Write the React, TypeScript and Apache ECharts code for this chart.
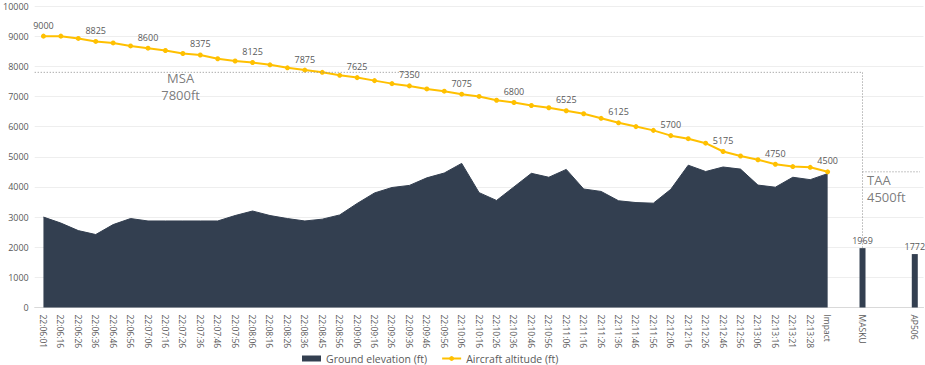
import React, { useEffect, useRef } from 'react';
import * as echarts from 'echarts';

const categories = [
  '22:06:01', '22:06:16', '22:06:26', '22:06:36', '22:06:46', '22:06:56',
  '22:07:06', '22:07:16', '22:07:26', '22:07:36', '22:07:46', '22:07:56',
  '22:08:06', '22:08:16', '22:08:26', '22:08:36', '22:08:45', '22:08:56',
  '22:09:06', '22:09:16', '22:09:26', '22:09:36', '22:09:46', '22:09:56',
  '22:10:06', '22:10:16', '22:10:26', '22:10:36', '22:10:46', '22:10:56',
  '22:11:06', '22:11:16', '22:11:26', '22:11:36', '22:11:46', '22:11:56',
  '22:12:06', '22:12:16', '22:12:26', '22:12:46', '22:12:56',
  '22:13:06', '22:13:16', '22:13:21', '22:13:28', 'Impact',
  '', 'MASKU', '', '', 'AP506',
];

const groundElevation = [
  3000, 2800, 2550, 2420, 2750, 2950, 2870, 2870, 2870, 2870, 2870, 3050,
  3200, 3050, 2950, 2870, 2930, 3070, 3450, 3800, 3980, 4050, 4300, 4460,
  4780, 3810, 3550, 4000, 4450, 4320, 4580, 3930, 3850, 3540, 3480, 3460,
  3920, 4720, 4510, 4660, 4590, 4060, 3990, 4320, 4240, 4440,
];

const aircraftAltitude = [
  9000, 9000, 8925, 8825, 8775, 8675, 8600, 8525, 8425, 8375, 8250, 8175,
  8125, 8050, 7950, 7875, 7800, 7700, 7625, 7525, 7425, 7350, 7250, 7175,
  7075, 7000, 6875, 6800, 6700, 6625, 6525, 6425, 6275, 6125, 6000, 5875,
  5700, 5600, 5450, 5175, 5025, 4900, 4750, 4675, 4650, 4500,
];

const waypointNames = ['MASKU', 'AP506'];
const waypointElevation = [1969, 1772];

const yTicks = { min: 0, max: 10000, interval: 1000 };

const MSA = 7800;
const TAA = 4500;
const MSA_LABEL_AT = 7.9;
const TAA_END = 50.3;

const DARK = '#333f50';
const GOLD = '#ffc000';
const TEXT = '#595959';
const FONT = '"Open Sans", "Noto Sans", sans-serif';

export default function App() {
  const ref = useRef<HTMLDivElement>(null);

  useEffect(() => {
    if (!ref.current) return;
    const chart = echarts.init(ref.current, null, { renderer: 'svg' });

    const n = categories.length;
    const mIdx = categories.indexOf(waypointNames[0]);
    const barData = categories.map((c) => {
      const k = waypointNames.indexOf(c);
      return k >= 0 ? waypointElevation[k] : null;
    });

    const annot = (x: number, y: number, text: string, label: any) => ({
      value: [x, y],
      label: {
        show: true,
        formatter: text,
        fontSize: 13,
        lineHeight: 13,
        color: TEXT,
        fontFamily: FONT,
        ...label,
      },
    });

    chart.setOption({
      animation: false,
      textStyle: { fontFamily: FONT },
      grid: { left: 32.25, right: 1.5, top: 6, bottom: 57.5, containLabel: false },
      legend: {
        left: 302,
        top: 353,
        padding: 0,
        itemGap: 14,
        itemWidth: 19,
        itemHeight: 6,
        textStyle: { color: TEXT, fontSize: 10.5, fontFamily: FONT },
        data: [
          { name: 'Ground elevation (ft)', icon: 'rect' },
          { name: 'Aircraft altitude (ft)' },
        ],
      },
      xAxis: [
        {
          type: 'category',
          data: categories,
          boundaryGap: true,
          axisLine: { show: true, lineStyle: { color: '#d9d9d9', width: 1 } },
          axisTick: { show: false },
          axisLabel: {
            interval: 0,
            rotate: -90,
            fontSize: 8.5,
            color: TEXT,
            margin: 7,
            fontFamily: FONT,
          },
          splitLine: { show: false },
        },
        {
          type: 'value',
          min: -0.5,
          max: n - 0.5,
          show: false,
          splitLine: { show: false },
        },
      ],
      yAxis: {
        type: 'value',
        min: yTicks.min,
        max: yTicks.max,
        interval: yTicks.interval,
        axisLine: { show: false },
        axisTick: { show: false },
        axisLabel: {
          fontSize: 9,
          color: TEXT,
          margin: 6,
          fontFamily: FONT,
          formatter: (v: number) => String(v),
        },
        splitLine: { lineStyle: { color: '#eeeeee', width: 1 } },
      },
      series: [
        {
          name: 'Ground elevation (ft)',
          type: 'line',
          data: groundElevation,
          symbol: 'none',
          lineStyle: { color: DARK, width: 1 },
          itemStyle: { color: DARK },
          areaStyle: { color: DARK, opacity: 1 },
          z: 1,
          silent: true,
        },
        {
          name: 'Ground elevation (ft)',
          type: 'bar',
          data: barData,
          barWidth: 6,
          itemStyle: { color: DARK },
          label: {
            show: true,
            position: 'top',
            distance: 3,
            color: TEXT,
            fontSize: 9,
            fontFamily: FONT,
          },
          z: 1,
          silent: true,
        },
        {
          name: 'Aircraft altitude (ft)',
          type: 'line',
          data: aircraftAltitude,
          symbol: 'circle',
          symbolSize: 5,
          lineStyle: { color: GOLD, width: 2 },
          itemStyle: { color: GOLD },
          label: {
            show: true,
            position: 'top',
            distance: 4,
            color: TEXT,
            fontSize: 9,
            fontFamily: FONT,
            formatter: (p: any) => (p.dataIndex % 3 === 0 ? String(p.value) : ''),
          },
          z: 3,
          silent: true,
        },
        {
          name: 'MSA',
          type: 'line',
          xAxisIndex: 1,
          data: [[-0.5, MSA], [mIdx, MSA], [mIdx, waypointElevation[0]]],
          symbol: 'none',
          lineStyle: { color: '#8c8c8c', width: 1, type: [1, 2] },
          z: 4,
          silent: true,
        },
        {
          name: 'TAA',
          type: 'line',
          xAxisIndex: 1,
          data: [[mIdx, TAA], [TAA_END, TAA]],
          symbol: 'none',
          lineStyle: { color: '#8c8c8c', width: 1, type: [1, 2] },
          z: 4,
          silent: true,
        },
        {
          name: 'annotations',
          type: 'scatter',
          xAxisIndex: 1,
          symbolSize: 1,
          itemStyle: { color: 'rgba(0,0,0,0)' },
          silent: true,
          z: 5,
          labelLayout: { hideOverlap: false },
          data: [
            annot(MSA_LABEL_AT, MSA, 'MSA', {
              position: [0, 6.5],
              align: 'center',
              verticalAlign: 'middle',
            }),
            annot(MSA_LABEL_AT, MSA, MSA + 'ft', {
              position: [0, 23.5],
              align: 'center',
              verticalAlign: 'middle',
            }),
            annot(mIdx, TAA, 'TAA', {
              position: [5, 9],
              align: 'left',
              verticalAlign: 'middle',
            }),
            annot(mIdx, TAA, TAA + 'ft', {
              position: [5, 26],
              align: 'left',
              verticalAlign: 'middle',
            }),
          ],
        },
      ],
    });

    return () => chart.dispose();
  }, []);

  return (
    <div
      ref={ref}
      style={{ position: 'absolute', left: 0, top: 0, width: 925, height: 365 }}
    />
  );
}
